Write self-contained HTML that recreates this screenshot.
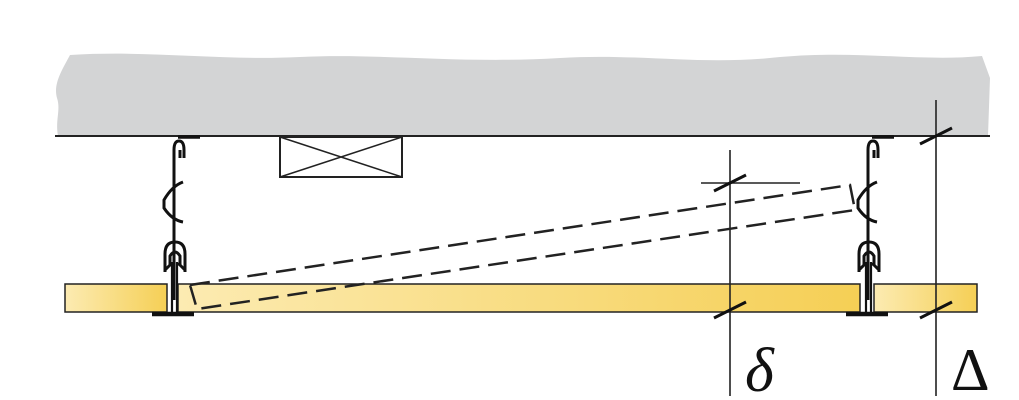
<!DOCTYPE html>
<html><head><style>body{margin:0;background:#fff}svg{display:block}</style></head><body>
<svg width="1019" height="400" viewBox="0 0 1019 400" xmlns="http://www.w3.org/2000/svg">
<defs>
<linearGradient id="g" x1="0" x2="1" y1="0" y2="0"><stop offset="0" stop-color="#fcebb2"/><stop offset="1" stop-color="#f5cf55"/></linearGradient>
</defs>
<path d="M70,55 C150,50 220,61 300,57 C380,53 460,64 560,58 C640,53 700,66 780,57 C860,50 920,62 982,56 L990,78 L988,136 L58,136 C55,120 61,110 57,98 C53,84 62,70 70,55 Z" fill="#d3d4d5"/>
<line x1="55" y1="136" x2="990" y2="136" stroke="#222" stroke-width="2"/>
<rect x="280" y="137" width="122" height="40" fill="none" stroke="#222" stroke-width="2"/>
<path d="M280,137 L402,177 M280,177 L402,137" stroke="#222" stroke-width="1.5"/>
<rect x="65" y="284" width="102" height="28" fill="url(#g)" stroke="#222" stroke-width="1.5"/>
<rect x="178" y="284" width="682" height="28" fill="url(#g)" stroke="#222" stroke-width="1.5"/>
<rect x="874" y="284" width="103" height="28" fill="url(#g)" stroke="#222" stroke-width="1.5"/>
<g id="h" fill="none" stroke="#111" stroke-width="3">
<path d="M178,137 L200,137" stroke-width="3.5"/>
<path d="M174,300 L174,150 Q174,141 179,141 Q184,141 184,150 L184,158 M180,150 L180,158"/>
<path d="M183,182 Q172,186 164,200 L164,208 Q172,220 183,222"/>
<path d="M165,272 L165,254 Q165,242 175,242 Q185,242 185,254 L185,272 M170,266 L170,256 Q175,248 180,256 L180,266 M165,270 L172,263 M185,270 L178,263"/>
<path d="M172,262 L172,312 M177,262 L177,312" stroke-width="2.2"/>
<path d="M152,314 L194,314" stroke-width="4.5"/>
</g>
<use href="#h" transform="translate(694,0)"/>
<g fill="none" stroke="#222" stroke-width="2.5" stroke-dasharray="20,9">
<path d="M190,285 L850,185 L855,210 L197,309 Z"/>
</g>
<g stroke="#222" stroke-width="1.6" fill="none">
<line x1="730" y1="150" x2="730" y2="396"/>
<line x1="936" y1="100" x2="936" y2="396"/>
<line x1="701" y1="183" x2="800" y2="183"/>
</g>
<g stroke="#111" stroke-width="3">
<line x1="714" y1="191" x2="746" y2="175"/>
<line x1="714" y1="318" x2="746" y2="302"/>
<line x1="920" y1="144" x2="952" y2="128"/>
<line x1="920" y1="318" x2="952" y2="302"/>
</g>
<text x="745" y="391" font-family="Liberation Serif, serif" font-style="italic" font-size="62" fill="#111">δ</text>
<text x="951" y="390" font-family="Liberation Serif, serif" font-size="60" fill="#111">Δ</text>
</svg>
</body></html>
